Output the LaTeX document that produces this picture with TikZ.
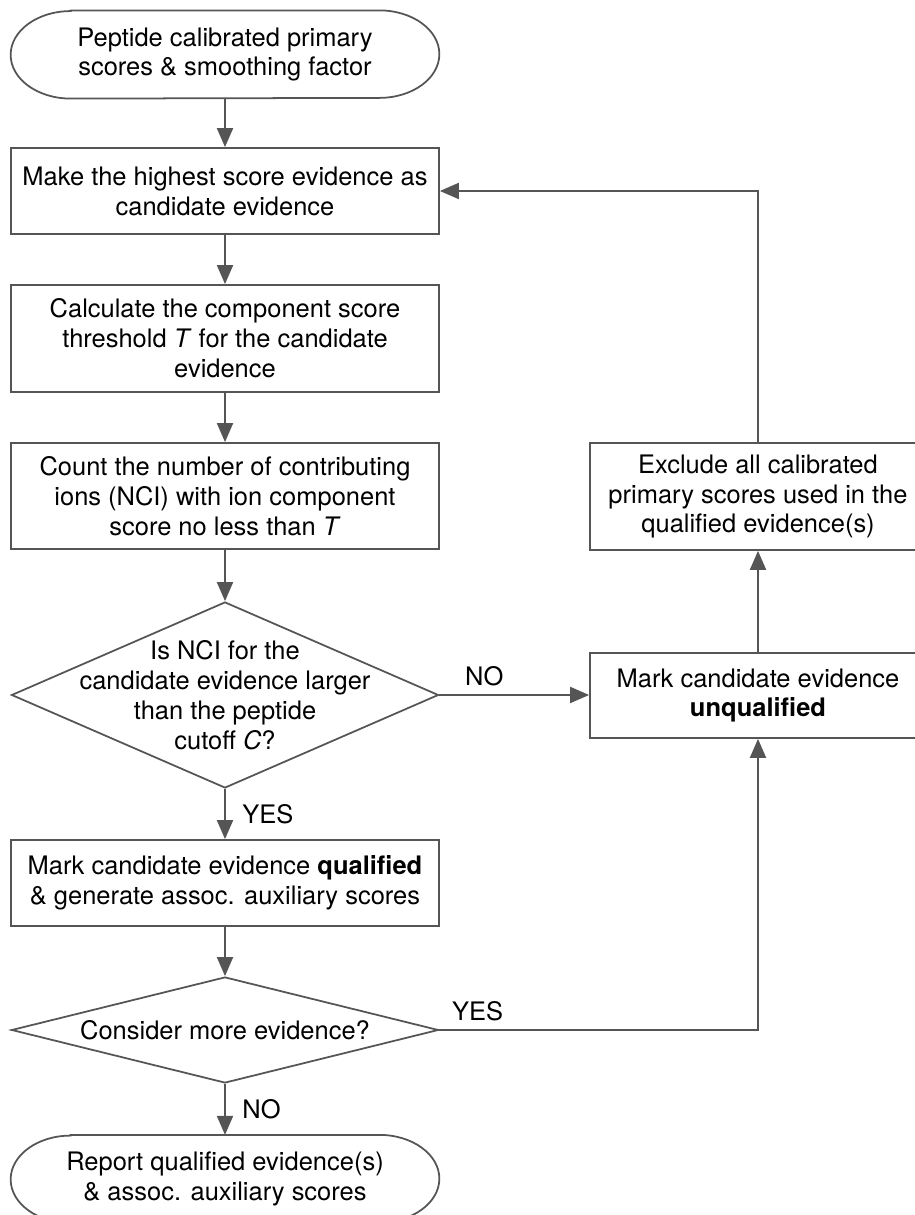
\documentclass[tikz,border=0pt]{standalone}
\usepackage{fontspec}
\setmainfont{TeX Gyre Heros}
\usetikzlibrary{arrows.meta,shapes.geometric}
\definecolor{lncol}{RGB}{85,85,85}

\begin{document}
\begin{tikzpicture}[>={Triangle[length=0.38cm,width=0.32cm]},every node/.style={font=\fontsize{14.5}{17}\selectfont}]
	\tikzstyle{proc} = [rectangle,draw=lncol,line width=1pt,align=center,minimum width=8.56cm]
	\tikzstyle{term} = [rectangle,align=center,minimum width=8.56cm,minimum height=1.75cm]
	\tikzstyle{decision} = [diamond,draw=lncol,line width=1pt,inner sep=0pt,minimum width=8.54cm]
	\tikzstyle{line} = [line width=1.1pt,every edge/.style={draw=lncol}]
	
	\useasboundingbox (0,0) rectangle (18.3,24.3);
	
	\node[term](start) at (4.5,23.21){Peptide calibrated primary\\scores \& smoothing factor};
	\node[proc,minimum height=1.72cm](make) at (4.5,20.48){Make the highest score evidence as\\candidate evidence};
	\node[proc,minimum height=2.14cm](calc) at (4.5,17.53){Calculate the component score\\threshold \textit{T} for the candidate\\evidence};
	\node[proc,minimum height=2.12cm](count) at (4.5,14.38){Count the number of contributing\\ions (NCI) with ion component\\score no less than \textit{T}};
	
	\node[decision,minimum height=3.72cm](q1) at (4.5,10.4){};
	\node[align=center](q1-text) at (q1){Is NCI for the\\candidate evidence larger\\than the peptide\\cutoff \textit{C}?};
	
	\node[proc,minimum height=1.72cm](qual) at (4.5,6.64){Mark candidate evidence \textbf{qualified}\\\& generate assoc. auxiliary scores};
	
	\node[decision,minimum height=2.12cm](q2) at (4.5,3.7){};
	\node[](q2-text) at (q2){Consider more evidence?};
	
	\node[term](report) at (4.5,0.72){Report qualified evidence(s)\\\& assoc. auxiliary scores};
	
	\node[proc,minimum width=6.72cm,minimum height=2.14cm](excl) at (15.16,14.37){Exclude all calibrated\\primary scores used in the\\qualified evidence(s)};
	\node[proc,minimum width=6.72cm,minimum height=1.7cm](unq) at (15.16,10.39){Mark candidate evidence\\\textbf{unqualified}};
	
	% stadium outlines of the two terminals
	\foreach \t in {start,report}{
		\draw[draw=lncol,line width=1pt] ([xshift=1.2cm]\t.north west) -- ([xshift=-1.2cm]\t.north east)
		arc[start angle=90,end angle=-90,x radius=1.2cm,y radius=0.875cm]
		-- ([xshift=1.2cm]\t.south west)
		arc[start angle=270,end angle=90,x radius=1.2cm,y radius=0.875cm] -- cycle;
	};
	
	\path[->,line] (start) edge (make)
	(make) edge (calc)
	(calc) edge (count)
	(count) edge (q1)
	(q1) edge node[right=6pt]{YES} (qual)
	(qual) edge (q2)
	(q2) edge node[right=6pt]{NO} (report);
	
	\path[->,line] (q1.east) edge node[pos=0.3,above=1pt]{NO} (q1.east -| unq.west)
	(unq) edge (excl);
	
	\draw[->,line,draw=lncol] (q2.east) -| node[pos=0.06,above=1pt]{YES} (unq.south);
	\draw[->,line,draw=lncol] (excl.north) |- (make.east);
\end{tikzpicture}
\end{document}
